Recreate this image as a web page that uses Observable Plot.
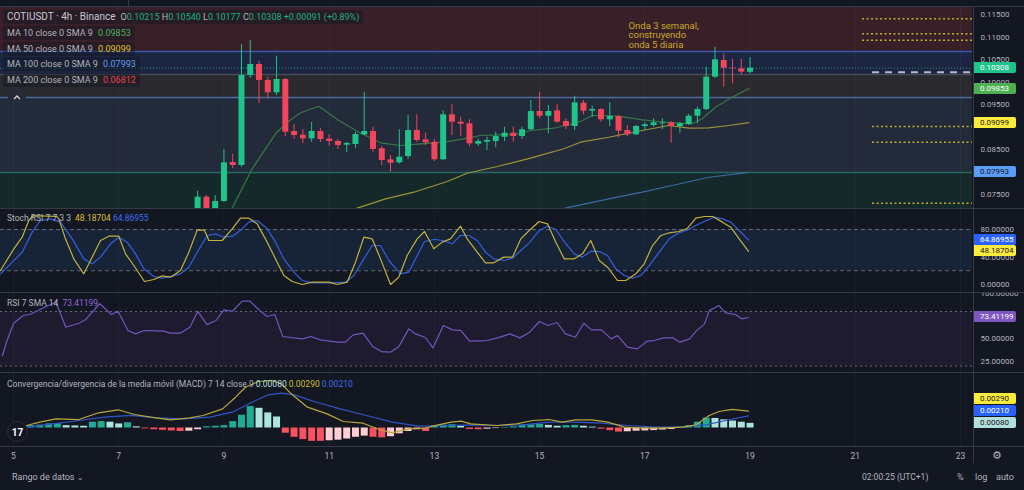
<!DOCTYPE html>
<html><head><meta charset="utf-8">
<script src="https://cdn.jsdelivr.net/npm/d3@7"></script>
<script src="https://cdn.jsdelivr.net/npm/@observablehq/plot@0.6"></script>
<style>
html,body{margin:0;padding:0;background:#131722;overflow:hidden}
#root{position:relative;width:1024px;height:490px;overflow:hidden;background:#131722;font-family:Roboto,"DejaVu Sans",sans-serif;color:#b2b5be}
.pane{position:absolute;left:0}
.pane svg{display:block}
.txt{position:absolute;white-space:nowrap;line-height:1}
.row{position:absolute;left:3px;height:14px;line-height:14px;padding:0 4px;background:rgba(19,23,34,0.45);border-radius:2px;white-space:nowrap;font-size:9px;color:#b2b5be}
.tag{position:absolute;left:973px;width:43px;height:11px;line-height:11px;font-size:8px;padding-left:7px;box-sizing:border-box;border-radius:0 2px 2px 0}
.hl{position:absolute;left:0;width:1024px;height:1px;background:#363a45}
</style></head><body><div id="root"></div>
<script>
// ---------- DATA ----------
const xDomain = [4.753, 23.228];
const dayTicks = [5, 7, 9, 11, 13, 15, 17, 19, 21, 23];
// price labels visible on the axis (0.08000 and 0.09000 sit under the MA tags)
const priceTicks = [0.075, 0.085, 0.095, 0.1, 0.105, 0.11, 0.115];
const stochTicks = [0, 40, 80];
const rsiTicks = [25, 50, 100];
const candleStart = 8.5; // day of first visible 4h candle
const open = [0.07144,0.07440,0.07167,0.07344,0.08211,0.08144,0.10144,0.10389,0.10033,0.09760,0.10056,0.08900,0.08818,0.08738,0.08900,0.08729,0.08678,0.08596,0.08611,0.08826,0.08900,0.08516,0.08271,0.08204,0.08344,0.08922,0.08716,0.08662,0.08271,0.09271,0.09107,0.09071,0.08618,0.08662,0.08678,0.08773,0.08862,0.08789,0.08938,0.09344,0.09240,0.09360,0.09122,0.09011,0.09529,0.09351,0.09389,0.09160,0.09233,0.08922,0.08827,0.09011,0.09033,0.09071,0.09093,0.09011,0.09056,0.09240,0.09389,0.10107,0.10478,0.10307,0.10293,0.10215];
const high = [0.07573,0.07478,0.07478,0.08500,0.08389,0.10827,0.10922,0.10462,0.10107,0.10573,0.10078,0.09056,0.08944,0.09100,0.08967,0.08833,0.08722,0.08656,0.08884,0.09773,0.08996,0.08567,0.08367,0.08938,0.09256,0.09271,0.08862,0.08716,0.09360,0.09493,0.09218,0.09160,0.08729,0.08773,0.08884,0.08996,0.08996,0.08996,0.09589,0.09773,0.09478,0.09493,0.09182,0.09684,0.09589,0.09462,0.09404,0.09538,0.09256,0.09033,0.09033,0.09093,0.09182,0.09182,0.09122,0.09100,0.09278,0.09440,0.10329,0.10773,0.10627,0.10500,0.10500,0.10540];
const low = [0.07078,0.07100,0.07122,0.07322,0.08078,0.08107,0.10084,0.09522,0.09627,0.09700,0.08789,0.08722,0.08633,0.08662,0.08656,0.08573,0.08500,0.08433,0.08522,0.08811,0.08440,0.08144,0.07996,0.08178,0.08278,0.08662,0.08589,0.08233,0.08256,0.08811,0.08796,0.08562,0.08562,0.08478,0.08538,0.08678,0.08662,0.08722,0.08922,0.09182,0.08849,0.09078,0.08944,0.08922,0.09271,0.09211,0.09107,0.09011,0.08760,0.08789,0.08811,0.08922,0.08996,0.08944,0.08640,0.08862,0.09033,0.09071,0.09367,0.10078,0.09884,0.09960,0.10160,0.10177];
const close = [0.07440,0.07167,0.07344,0.08204,0.08144,0.10144,0.10389,0.10033,0.09760,0.10056,0.08884,0.08811,0.08738,0.08900,0.08722,0.08678,0.08589,0.08633,0.08833,0.08900,0.08500,0.08256,0.08196,0.08329,0.08922,0.08700,0.08649,0.08271,0.09271,0.09107,0.09062,0.08627,0.08678,0.08700,0.08789,0.08862,0.08789,0.08938,0.09344,0.09240,0.09344,0.09107,0.09011,0.09538,0.09351,0.09389,0.09160,0.09233,0.08907,0.08827,0.09011,0.09049,0.09093,0.09093,0.09011,0.09071,0.09240,0.09389,0.10107,0.10493,0.10307,0.10293,0.10218,0.10308];

const ma10Day = [9.0,9.157,9.537,9.98,10.17,10.455,10.803,11.183,11.564,11.976,12.356,12.736,13.179,13.559,13.877,14.194,14.637,14.827,15.27,15.777,15.999,16.315,16.633,16.95,17.266,17.583,17.9,18.091,18.344,18.661,18.977];
const ma10 = [0.0690,0.0720,0.08071,0.08849,0.09071,0.09316,0.09462,0.09144,0.08884,0.08649,0.08589,0.08627,0.08662,0.08738,0.08811,0.08827,0.08849,0.08922,0.08973,0.09122,0.09256,0.09256,0.09218,0.0916,0.09122,0.09093,0.09071,0.09182,0.0944,0.09662,0.09853];
const ma50Day = [11.3,11.533,12.071,12.609,13.244,13.624,14.194,14.827,15.46,15.777,16.315,16.95,17.456,17.836,18.216,18.597,18.977];
const ma50 = [0.0712,0.07196,0.07404,0.07551,0.07789,0.07973,0.08122,0.08307,0.08516,0.08662,0.08773,0.08922,0.09033,0.08973,0.08982,0.09033,0.09099];
const ma100Day = [15.3,15.492,15.777,16.315,16.95,17.583,18.216,18.977];
const ma100 = [0.0715,0.07196,0.07271,0.07404,0.07551,0.07716,0.07884,0.07993];

const zoneLevels = [0.10678, 0.10167, 0.09656, 0.07989];
const zoneFills = ["#381f28", "#1c2541", "#29292e", "#232a3a", "#15292a"];
const zoneLineColors = ["#3a58b0", "#4a4d57", "#4d6c9e", "#24695f"];
const upperTargets = [0.11404, 0.11071, 0.10929];
const lowerTargets = [0.09011, 0.08662, 0.07307];
const dashedLevel = [0.10218];
const upperTargetStart = 21.138, lowerTargetStart = 21.328;
const annotation = {day: 16.69, price: 0.1132, text: "Onda 3 semanal,\nconstruyendo\nonda 5 diaria"};

const stochKDay = [4.753,5.006,5.165,5.291,5.37,5.82,5.861,5.988,6.146,6.336,6.464,6.654,6.812,7.002,7.129,7.287,7.49,7.667,7.826,7.984,8.174,8.333,8.492,8.63,8.713,8.967,9.157,9.315,9.473,9.632,9.822,10.012,10.138,10.297,10.487,10.677,10.993,11.152,11.342,11.5,11.659,11.818,11.976,12.166,12.324,12.483,12.673,12.812,12.989,13.149,13.306,13.497,13.624,13.814,13.972,14.13,14.32,14.485,14.643,14.802,14.992,15.15,15.308,15.468,15.658,15.815,15.973,16.133,16.29,16.48,16.639,16.829,16.988,17.146,17.304,17.463,17.653,17.811,17.969,18.128,18.286,18.476,18.634,18.793,18.97];
const stochK = [20.4,51.9,68.8,93.1,100,99,95.5,66.4,37.3,15.5,34.9,64,70.3,70.3,44.6,27.6,4.4,7.3,12.6,10.7,20.4,47,79.5,79,64,64,81,96.5,96.5,88.2,61.6,32.5,13.1,4.4,0,3.4,3.4,0,3.4,32.5,68.8,66.4,37.3,0,10.7,42.2,66.4,77.1,51.9,61.6,66.4,84.8,66.4,47,31.5,31.5,39.8,39.8,66.4,78.5,91.6,88.2,61.6,37.3,37.3,44.6,64,34.9,25.2,5.8,5.8,15.5,30.1,56.7,71.3,75.2,77.1,81.9,96.5,98.9,98.9,90.7,83.4,66.4,48.19];
const stochDDay = [4.753,4.943,5.165,5.355,5.513,5.703,5.893,6.116,6.336,6.496,6.654,6.844,7.002,7.161,7.319,7.477,7.667,7.826,8.017,8.174,8.333,8.492,8.682,8.84,8.997,9.157,9.315,9.473,9.632,9.822,9.98,10.138,10.328,10.487,10.677,11.025,11.31,11.468,11.659,11.818,11.976,12.134,12.356,12.514,12.673,12.812,12.989,13.149,13.339,13.497,13.655,13.814,13.972,14.13,14.32,14.485,14.643,14.802,14.992,15.15,15.308,15.468,15.658,15.815,15.973,16.133,16.29,16.448,16.608,16.766,16.924,17.083,17.273,17.463,17.653,17.811,17.969,18.128,18.318,18.476,18.634,18.793,18.97];
const stochD = [15.5,30.1,47,76.1,93.1,95.5,90.7,66.4,37.3,30.1,39.8,59.2,68.8,61.6,44.6,22.8,11.6,9.2,12.1,15.5,25.2,47,71.3,73.7,68.8,70.3,78.5,90.7,93.1,81,61.6,37.3,17.9,5.8,2.4,2.4,3.4,13.1,37.3,56.7,56.7,34.9,15.5,17.9,42.2,62.5,65.5,64,59.2,71.3,71.3,64,47,37.3,34.9,38.3,49.5,60.6,78.5,84.8,80,62.5,44.6,39.8,48.5,48,42.2,22.8,13.1,9.2,13.1,27.6,47,66.4,75.2,79.5,85.8,91.6,97.9,95.5,90.7,78.5,64.87];

const rsiDay = [4.79,4.877,5.002,5.188,5.312,5.435,5.622,5.808,5.994,6.243,6.367,6.553,6.641,6.863,6.988,7.175,7.323,7.485,7.857,7.981,8.167,8.353,8.503,8.676,8.849,9.0,9.161,9.347,9.495,9.657,9.819,9.967,10.117,10.49,10.651,10.835,11.147,11.309,11.457,11.643,11.83,11.991,12.164,12.326,12.512,12.637,12.824,12.972,13.17,13.344,13.506,13.668,14.002,14.251,14.437,14.624,14.81,14.996,15.158,15.331,15.492,15.679,15.84,15.989,16.175,16.361,16.485,16.671,16.857,17.043,17.169,17.355,17.541,17.665,17.851,17.975,18.136,18.224,18.41,18.534,18.72,18.843,18.969];
const rsi = [31.6,48.1,67.1,75.6,76.7,80.3,85.5,90.2,62.7,67.1,70.9,83,88.5,76.7,80.3,59.1,55.4,59.1,58.4,56.2,56.2,62.7,80.3,65.6,70.1,81.8,80.3,91.4,91.4,82.2,74.5,76.7,52.5,49.9,52.5,48.8,46.3,46.3,54.3,56.2,41.5,36,35.3,41.5,60.9,55.4,51.7,40,64.6,59.8,59.1,47.4,48.1,51.8,55.4,51,57.3,69,64.6,67.9,55.4,51.7,67.1,59.8,59.8,49.9,53.6,40.8,38.9,47.4,48.1,51,51,46.3,49.9,58.4,66.4,81,86.5,78.5,76.7,71.9,73.41];

const macdDay = [5.247,5.498,5.808,6.243,6.616,6.988,7.298,7.608,7.981,8.353,8.602,8.975,9.222,9.408,9.657,9.906,10.092,10.279,10.588,10.961,11.271,11.643,11.953,12.202,12.512,12.824,13.071,13.32,13.506,13.692,14.188,14.561,14.871,15.183,15.43,15.679,15.989,16.298,16.61,16.92,17.292,17.728,17.975,18.224,18.41,18.657,18.969];
const macdLine = [0.00043,0.0010,0.00157,0.00146,0.00262,0.00314,0.00233,0.00187,0.00141,0.00175,0.00216,0.0033,0.00531,0.00703,0.00802,0.00819,0.00762,0.00589,0.00359,0.00244,0.00112,0.00083,-0.00026,-0.00083,-0.00014,-0.00003,0.00055,0.0010,0.00118,0.00072,0.00043,0.00072,0.00129,0.00146,0.0010,0.00141,0.00141,0.0010,0.00014,-0.00003,-0.00003,0.00014,0.00055,0.00216,0.00285,0.0032,0.0029];
const signalDay = [5.247,5.747,6.243,6.739,7.235,7.733,8.229,8.726,9.161,9.534,9.843,10.092,10.339,10.712,11.208,11.706,12.202,12.698,13.196,13.692,14.188,14.684,15.183,15.679,16.175,16.671,17.169,17.665,18.161,18.534,18.969];
const signalLine = [0.00014,0.00072,0.00129,0.00187,0.00216,0.00175,0.00158,0.00187,0.00273,0.00445,0.00572,0.0060,0.00572,0.00457,0.0033,0.00216,0.0010,0.00032,0.00043,0.00055,0.00043,0.00055,0.0010,0.0010,0.00083,0.00043,0.00014,0.00014,0.00055,0.00129,0.0021];
const histStart = 5.3333;
const macdHist = [0.0004,0.0005,0.0007,0.00075,0.0004,0.00035,0.0003,0.0010,0.0011,0.0010,0.0007,0.0009,0.0002,-0.00015,-0.0003,-0.0004,-0.0005,-0.0006,-0.00055,-0.0003,0.0002,0.0003,0.0004,0.0011,0.0022,0.0037,0.0034,0.0026,0.0019,-0.0009,-0.0016,-0.0020,-0.0023,-0.0023,-0.0022,-0.0021,-0.0019,-0.0016,-0.0014,-0.0016,-0.0017,-0.0015,-0.0010,-0.0006,-0.0003,-0.0006,0.0004,0.0005,0.00055,0.0003,-0.00025,-0.0003,-0.0002,-0.0001,0.0001,0.0002,0.0005,0.00055,0.0006,0.00045,0.0003,0.0004,0.00045,0.0003,0.00015,-0.0002,-0.00045,-0.0007,-0.00065,-0.00055,-0.0005,-0.00045,-0.00035,-0.00025,0.00015,0.0004,0.0010,0.0017,0.00165,0.0014,0.0012,0.0010,0.0008];

const maLegend = [
  {name: "MA 10 close 0 SMA 9", value: "0.09853", color: "#52b05a"},
  {name: "MA 50 close 0 SMA 9", value: "0.09099", color: "#e2c31c"},
  {name: "MA 100 close 0 SMA 9", value: "0.07993", color: "#5b9cf6"},
  {name: "MA 200 close 0 SMA 9", value: "0.06812", color: "#e8404f"}
];

// ---------- STYLE ----------
const UP = "#1fc48a", DOWN = "#f2455a";
const FONT = "Roboto, 'DejaVu Sans', sans-serif";
const root = document.getElementById("root");
const baseStyle = {background: "transparent", color: "#b2b5be", fontFamily: FONT, fontSize: "8px"};
const pts = (xs, ys) => xs.map((x, i) => ({x, y: ys[i]}));
const grid = () => Plot.ruleX(dayTicks, {stroke: "#ffffff", strokeOpacity: 0.035});

function place(node, top) {
  const d = document.createElement("div");
  d.className = "pane"; d.style.top = top + "px";
  d.appendChild(node); root.appendChild(d);
}
function yFn(chart) {
  const s = chart.scale("y");
  return s.apply ? (v) => s.apply(v) : d3.scaleLinear(s.domain, s.range);
}
function addTag(y, label, bg, fg) {
  const d = document.createElement("div"); d.className = "tag";
  d.style.top = (y - 5.5) + "px"; d.style.background = bg; d.style.color = fg;
  d.textContent = label; root.appendChild(d);
}
function addText(html, left, top, extra) {
  const d = document.createElement("div"); d.className = "txt";
  d.style.left = left + "px"; d.style.top = top + "px";
  if (extra) Object.assign(d.style, extra);
  d.innerHTML = html; root.appendChild(d); return d;
}

// ---------- MAIN PRICE PANE ----------
const MAIN_TOP = 7;
const yMain = [0.071889, 0.116556];
const bounds = [yMain[1], ...zoneLevels, yMain[0]];
const zones = zoneFills.map((f, i) => ({hi: bounds[i], lo: bounds[i + 1], fill: f}));
const zoneLines = zoneLevels.map((v, i) => ({v, c: zoneLineColors[i]}));
const candles = open.map((o, i) => ({t: candleStart + i / 6, o, h: high[i], l: low[i], c: close[i], col: close[i] >= o ? UP : DOWN}));
const lastClose = close[close.length - 1];

const main = Plot.plot({
  width: 1024, height: 201, marginTop: 0, marginBottom: 0, marginLeft: 0, marginRight: 52,
  x: {domain: xDomain, axis: null},
  y: {domain: yMain, axis: "right", ticks: priceTicks, tickFormat: d => d.toFixed(5), tickSize: 0, tickPadding: 8, label: null},
  color: {type: "identity"},
  style: baseStyle,
  marks: [
    Plot.rect(zones, {y1: "lo", y2: "hi", fill: d => d.fill}),
    grid(),
    Plot.ruleY(zoneLines, {y: "v", stroke: d => d.c, strokeWidth: 1.5}),
    Plot.ruleY([lastClose], {stroke: UP, strokeDasharray: "1,2", strokeOpacity: 0.7}),
    Plot.ruleY(upperTargets, {x1: upperTargetStart, x2: xDomain[1], stroke: "#c4b030", strokeDasharray: "2,2.5", strokeWidth: 1.5}),
    Plot.ruleY(lowerTargets, {x1: lowerTargetStart, x2: xDomain[1], stroke: "#c4b030", strokeDasharray: "2,2.5", strokeWidth: 1.5}),
    Plot.ruleY(dashedLevel, {x1: lowerTargetStart, x2: xDomain[1], stroke: "#b8bbc6", strokeDasharray: "7,6", strokeWidth: 2}),
    Plot.line(pts(ma100Day, ma100), {x: "x", y: "y", stroke: "#3b6aa2", strokeWidth: 1.2, clip: true}),
    Plot.line(pts(ma50Day, ma50), {x: "x", y: "y", stroke: "#9c9438", strokeWidth: 1.2, clip: true}),
    Plot.line(pts(ma10Day, ma10), {x: "x", y: "y", stroke: "#357a45", strokeWidth: 1.2, clip: true}),
    Plot.ruleX(candles, {x: "t", y1: "l", y2: "h", stroke: d => d.col, strokeWidth: 1, clip: true}),
    Plot.ruleX(candles, {x: "t", y1: "o", y2: "c", stroke: d => d.col, strokeWidth: 6, clip: true}),
    Plot.text([annotation], {x: "day", y: "price", text: "text", textAnchor: "start", lineAnchor: "top", fill: "#c9a82c", fontSize: 9.5, lineHeight: 0.97})
  ]
});
place(main, MAIN_TOP);
const ym = yFn(main);
addTag(MAIN_TOP + ym(lastClose), lastClose.toFixed(5), UP, "#ffffff");
addTag(MAIN_TOP + ym(ma10[ma10.length - 1]), ma10[ma10.length - 1].toFixed(5), "#4caf50", "#ffffff");
addTag(MAIN_TOP + ym(ma50[ma50.length - 1]), ma50[ma50.length - 1].toFixed(5), "#ffeb3b", "#131722");
addTag(MAIN_TOP + ym(ma100[ma100.length - 1]), ma100[ma100.length - 1].toFixed(5), "#5b9cf6", "#131722");

// ---------- STOCH RSI PANE ----------
const ST_TOP = 208;
const stoch = Plot.plot({
  width: 1024, height: 84, marginTop: 0, marginBottom: 0, marginLeft: 0, marginRight: 52,
  x: {domain: xDomain, axis: null},
  y: {domain: [-11.64, 110.55], axis: "right", ticks: stochTicks, tickFormat: d => d.toFixed(5), tickSize: 0, tickPadding: 8, label: null},
  style: baseStyle,
  marks: [
    Plot.rect([0], {y1: 20, y2: 80, fill: "#172336"}),
    grid(),
    Plot.ruleY([20, 80], {stroke: "#787b86", strokeDasharray: "4,3", strokeOpacity: 0.8}),
    Plot.line(pts(stochDDay, stochD), {x: "x", y: "y", stroke: "#3361dc", strokeWidth: 1.2, clip: true}),
    Plot.line(pts(stochKDay, stochK), {x: "x", y: "y", stroke: "#c2b23c", strokeWidth: 1.2, clip: true})
  ]
});
place(stoch, ST_TOP);
const ys = yFn(stoch);
addTag(ST_TOP + ys(stochD[stochD.length - 1]), "64.86955", "#2962ff", "#ffffff");
addTag(ST_TOP + ys(stochK[stochK.length - 1]), "48.18704", "#ffeb3b", "#131722");

// ---------- RSI PANE ----------
const RSI_TOP = 292;
const rsiChart = Plot.plot({
  width: 1024, height: 80, marginTop: 0, marginBottom: 0, marginLeft: 0, marginRight: 52,
  x: {domain: xDomain, axis: null},
  y: {domain: [12.97, 100.88], axis: "right", ticks: rsiTicks, tickFormat: d => d.toFixed(5), tickSize: 0, tickPadding: 8, label: null},
  style: baseStyle,
  marks: [
    Plot.rect([0], {y1: 20, y2: 80, fill: "#1e1b2f"}),
    grid(),
    Plot.ruleY([20, 80], {stroke: "#787b86", strokeDasharray: "2,3", strokeOpacity: 0.8}),
    Plot.line(pts(rsiDay, rsi), {x: "x", y: "y", stroke: "#7355c0", strokeWidth: 1.2, clip: true})
  ]
});
place(rsiChart, RSI_TOP);
const yr = yFn(rsiChart);
addTag(RSI_TOP + yr(rsi[rsi.length - 1]), "73.41199", "#7e57c2", "#ffffff");

// ---------- MACD PANE (with time axis) ----------
const MACD_TOP = 372;
const histData = macdHist.map((v, i) => {
  const p = i ? macdHist[i - 1] : 0;
  const col = v >= 0 ? (v >= p ? "#22ab94" : "#ace5dc") : (v <= p ? "#f7525f" : "#ffcdd2");
  return {t: histStart + i / 6, v, col};
});
const macd = Plot.plot({
  width: 1024, height: 93, marginTop: 0, marginBottom: 19, marginLeft: 0, marginRight: 52,
  x: {domain: xDomain, axis: "bottom", ticks: dayTicks, tickFormat: d => String(d), tickSize: 0, tickPadding: 6, label: null},
  y: {domain: [-0.00319, 0.009569], axis: null},
  color: {type: "identity"},
  style: {...baseStyle, fontSize: "8.5px"},
  marks: [
    grid(),
    Plot.ruleX(histData, {x: "t", y1: 0, y2: "v", stroke: d => d.col, strokeWidth: 7}),
    Plot.line(pts(signalDay, signalLine), {x: "x", y: "y", stroke: "#2f55c8", strokeWidth: 1.2, clip: true}),
    Plot.line(pts(macdDay, macdLine), {x: "x", y: "y", stroke: "#b9a838", strokeWidth: 1.2, clip: true})
  ]
});
place(macd, MACD_TOP);
const yq = yFn(macd);
const macdTags = [
  {v: macdLine[macdLine.length - 1], label: "0.00290", bg: "#ffeb3b", fg: "#131722"},
  {v: signalLine[signalLine.length - 1], label: "0.00210", bg: "#2962ff", fg: "#ffffff"},
  {v: macdHist[macdHist.length - 1], label: "0.00080", bg: "#b2dfdb", fg: "#131722"}
].map(d => ({...d, y: MACD_TOP + yq(d.v)})).sort((a, b) => b.y - a.y);
let prevY = Infinity;
for (const t of macdTags) { const y = Math.min(t.y, prevY - 12); prevY = y; addTag(y, t.label, t.bg, t.fg); }

// ---------- SEPARATORS ----------
for (const y of [6, 208, 292, 372, 446]) {
  const d = document.createElement("div"); d.className = "hl"; d.style.top = y + "px"; root.appendChild(d);
}
const vl = document.createElement("div");
Object.assign(vl.style, {position: "absolute", left: "973px", top: "6px", width: "1px", height: "457px", background: "#363a45"});
root.appendChild(vl);
const tl = document.createElement("div");
Object.assign(tl.style, {position: "absolute", left: "128px", top: "0px", width: "1px", height: "6px", background: "#363a45"});
root.appendChild(tl);

// ---------- LEGENDS ----------
const G = "#19b37e";
const r1 = addText(`<span style="font-size:10px;color:#c7cad3">COTIUSDT · 4h · Binance</span><span style="margin-left:5px;font-size:9px">O<span style="color:${G}">0.10215</span> H<span style="color:${G}">0.10540</span> L<span style="color:${G}">0.10177</span> C<span style="color:${G}">0.10308</span> <span style="color:${G}">+0.00091 (+0.89%)</span></span>`, 3, 10);
r1.className = "row"; r1.style.left = "3px";
maLegend.forEach((m, i) => {
  const r = addText(`${m.name} <span style="margin-left:3px;color:${m.color}">${m.value}</span>`, 3, 26 + i * 15.5);
  r.className = "row";
});
// collapse button
addText(`<svg width="18" height="11"><polyline points="6,7 9,4 12,7" fill="none" stroke="#d1d4dc" stroke-width="1.3"/></svg>`, 8, 90, {background: "#262a35", borderRadius: "2px", width: "18px", height: "11px"});

addText(`Stoch RSI 7 7 3 3 <span style="color:#d4bd2f;margin-left:2px">48.18704</span> <span style="color:#3d6df0">64.86955</span>`, 7, 214, {fontSize: "8.5px"});
addText(`RSI 7 SMA 14 <span style="color:#8e6ad6;margin-left:2px">73.41199</span>`, 7, 299, {fontSize: "8.5px"});
addText(`Convergencia/divergencia de la media móvil (MACD) 7 14 close 9 <span style="color:#b2dfdb">0.00080</span> <span style="color:#d4bd2f">0.00290</span> <span style="color:#3d6df0">0.00210</span>`, 7, 380, {fontSize: "8.5px"});

// TradingView logo
addText(`<b>17</b>`, 7, 421, {width: "21px", height: "21px", borderRadius: "50%", background: "#131722", border: "1px solid #2a2e39", color: "#ffffff", fontSize: "10px", lineHeight: "21px", textAlign: "center", boxSizing: "border-box"});

// gear + bottom bar
addText(`⚙`, 992, 450, {fontSize: "11px", color: "#b2b5be"});
addText(`Rango de datos <span style="font-size:8px">⌄</span>`, 12, 473, {fontSize: "9px"});
addText(`02:00:25 (UTC+1)`, 862, 473, {fontSize: "8.5px"});
addText(`%`, 957, 473, {fontSize: "9px"});
addText(`log`, 975, 473, {fontSize: "9px"});
addText(`auto`, 996, 473, {fontSize: "9px"});
</script></body></html>
